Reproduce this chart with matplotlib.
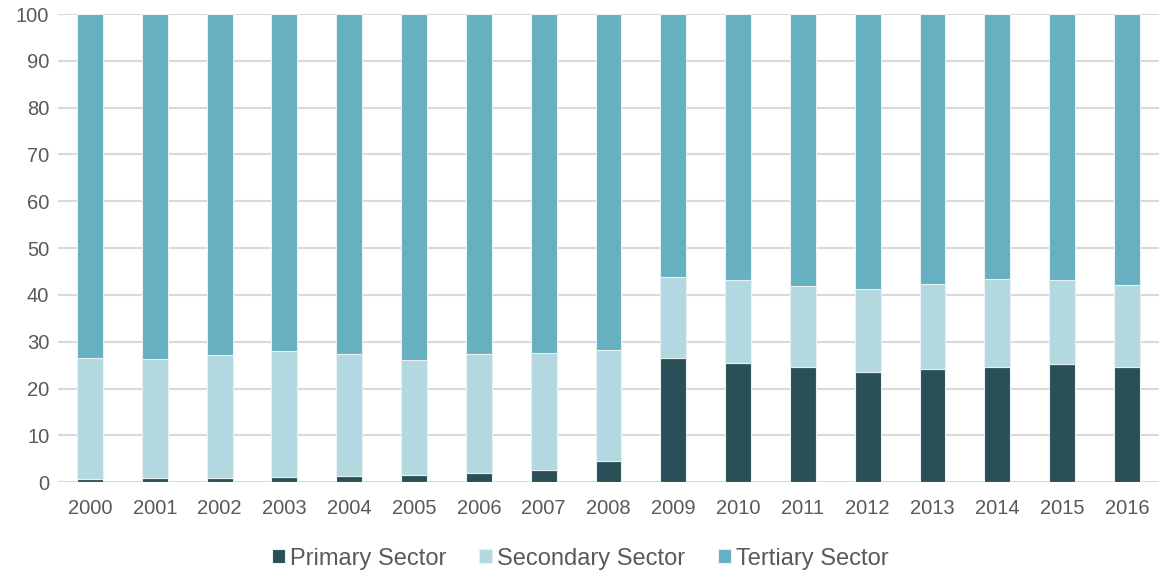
import numpy as np
import matplotlib.pyplot as plt

plt.rcParams['font.family'] = ['Liberation Sans', 'DejaVu Sans']

years = ['2000', '2001', '2002', '2003', '2004', '2005', '2006', '2007', '2008',
         '2009', '2010', '2011', '2012', '2013', '2014', '2015', '2016']
# shares in percent
primary = [0.6, 0.8, 0.9, 1.1, 1.3, 1.6, 2.0, 2.6, 4.6,
           26.6, 25.4, 24.7, 23.5, 24.2, 24.5, 25.3, 24.5]
# top of the secondary block (primary + secondary)
prim_sec = [26.6, 26.3, 27.2, 28.1, 27.4, 26.0, 27.4, 27.6, 28.2,
            43.9, 43.2, 41.9, 41.3, 42.4, 43.3, 43.2, 42.2]

primary = np.array(primary)
secondary = np.array(prim_sec) - primary
tertiary = 100 - np.array(prim_sec)

c_prim = '#285056'
c_sec = '#b3d8e0'
c_ter = '#67b0c2'
txt = '#595959'

fig = plt.figure(figsize=(11.61, 5.74), dpi=100)
ax = fig.add_axes([0.0496, 0.160, 0.949, 0.8156])

x = np.arange(len(years))
w = 0.4
ax.bar(x, primary, w, color=c_prim, edgecolor='#e8f0f2', linewidth=0.8, label='Primary Sector', zorder=3)
ax.bar(x, secondary, w, bottom=primary, color=c_sec, edgecolor='#e8f0f2', linewidth=0.8, label='Secondary Sector', zorder=3)
ax.bar(x, tertiary, w, bottom=primary + secondary, color=c_ter, edgecolor='#e8f0f2', linewidth=0.8, label='Tertiary Sector', zorder=3)

ax.set_xlim(-0.5, len(years) - 0.5)
ax.set_ylim(0, 100)
ax.set_yticks(np.arange(0, 101, 10))
ax.set_xticks(x)
ax.set_xticklabels(years)
ax.tick_params(axis='both', length=0, labelsize=14.5, colors=txt)
ax.tick_params(axis='x', pad=12)
ax.tick_params(axis='y', pad=6)
ax.yaxis.grid(True, color='#d9d9d9', linewidth=1.5, zorder=0)
for s in ax.spines.values():
    s.set_visible(False)

leg = fig.legend(loc='center', bbox_to_anchor=(0.5, 0.027), ncol=3, frameon=False,
                 fontsize=17, handlelength=0.55, handleheight=0.55, handletextpad=0.2,
                 columnspacing=1.4)
for t in leg.get_texts():
    t.set_color(txt)

plt.savefig('out.png', dpi=100)
plt.close()
